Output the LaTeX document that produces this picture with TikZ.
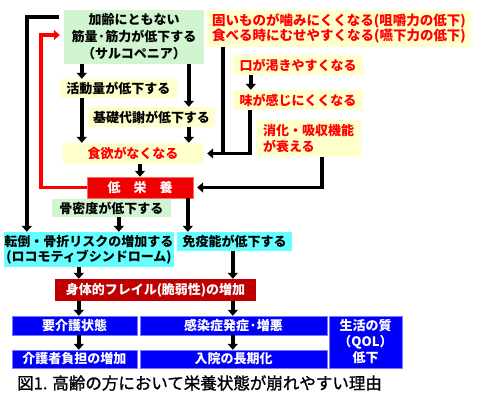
\documentclass[tikz,border=0pt]{standalone}
\usepackage{fontspec}
\setmainfont{Noto Sans CJK JP}
\newfontfamily\capfont{Noto Sans CJK JP}[FakeBold=1.2]
\usetikzlibrary{arrows.meta,calc}
\definecolor{gboxc}{RGB}{208,245,208}
\definecolor{yboxc}{RGB}{255,255,204}
\definecolor{rtext}{RGB}{255,0,0}
\definecolor{rboxc}{RGB}{240,0,0}
\definecolor{drboxc}{RGB}{192,0,0}
\definecolor{cboxc}{RGB}{102,255,255}
\definecolor{bboxc}{RGB}{0,0,250}
\definecolor{bbord}{RGB}{120,120,255}
\newcommand\mybox[7]{\node[#6, minimum width={#4-#2}, minimum height={#5-#3}] (#1) at ({(#2+#4)/2},{(#3+#5)/2}) {#7};}
\begin{document}
\begin{tikzpicture}[x=1pt,y=-1pt,
  font=\fontsize{13}{16}\selectfont\bfseries,
  base/.style={inner sep=0pt, align=center},
  gbox/.style={base, fill=gboxc, text=black},
  ybox/.style={base, fill=yboxc, text=black},
  yrbox/.style={base, fill=yboxc, text=rtext},
  rbox/.style={base, fill=rboxc, draw=red!60, text=white},
  drbox/.style={base, fill=drboxc, text=white},
  cbox/.style={base, fill=cboxc, text=black},
  bbox/.style={base, fill=bboxc, draw=bbord, text=white},
  blk/.style={line width=3.5pt, draw=black, -{Triangle[width=10pt,length=6pt]}},
  blkline/.style={line width=3.5pt, draw=black},
  redarr/.style={line width=3.5pt, draw=rtext, -{Triangle[width=10pt,length=6pt]}},
]
\useasboundingbox (0,0) rectangle (480,400);
\fill[white] (0,0) rectangle (480,400);

\mybox{green}{64}{10}{204}{64}{gbox, font=\fontsize{13}{17}\selectfont\bfseries}{加齢にともない\\筋量·筋力が低下する\\（サルコペニア）}
\mybox{tr}{207}{10}{471}{47}{yrbox, font=\fontsize{13.5}{15}\selectfont\bfseries}{固いものが噛みにくくなる(咀嚼力の低下)\\食べる時にむせやすくなる(嚥下力の低下)}
\mybox{act}{60}{79}{177}{98}{ybox}{活動量が低下する}
\mybox{basal}{88}{107}{215}{127}{ybox}{基礎代謝が低下する}
\mybox{appetite}{63}{143}{203}{164}{yrbox}{食欲がなくなる}
\mybox{mouth}{233}{55}{363}{75}{yrbox}{口が渇きやすくなる}
\mybox{taste}{233}{90}{363}{110}{yrbox}{味が感じにくくなる}
\mybox{digest}{256}{120}{361}{157}{yrbox, align=left}{消化・吸収機能\\が衰える}
\mybox{low}{87}{177}{193}{198}{rbox}{低　栄　養}
\mybox{bone}{52}{199}{171}{217}{gbox}{骨密度が低下する}
\mybox{fall}{4}{232}{174}{267}{cbox, font=\fontsize{13}{15}\selectfont\bfseries}{転倒・骨折リスクの増加する\\(ロコモティブシンドローム)}
\mybox{immune}{177}{232}{292}{251}{cbox}{免疫能が低下する}
\mybox{frail}{55}{279}{256}{301}{drbox}{身体的フレイル(脆弱性)の増加}
\mybox{care}{12}{316}{137}{335}{bbox}{要介護状態}
\mybox{infect}{140}{316}{327}{335}{bbox}{感染症発症·増悪}
\mybox{burden}{12}{350}{137}{368}{bbox}{介護者負担の増加}
\mybox{hosp}{140}{350}{327}{368}{bbox}{入院の長期化}
\mybox{qol}{329}{316}{402}{368}{bbox}{生活の質\\（QOL）\\低下}
\node[anchor=west, inner sep=0pt, font=\fontsize{16.5}{18}\capfont] (cap) at (17,383) {図1. 高齢の方において栄養状態が崩れやすい理由};

% connectors
\draw[blk] ([shift={(-5pt,-7pt)}]green.north west) -| ([xshift=23pt]fall.north west);
\coordinate (rb) at (41,35);
\draw[redarr] (low.west) -| (rb) -- ([xshift=-4pt]green.west |- rb);

\draw[blk] ([xshift=18pt]green.south west) -- ([xshift=22pt]act.north west);
\draw[blk] ([xshift=125pt]green.south west) -- ([xshift=101pt]basal.north west);
\draw[blk] ([xshift=22pt]act.south west) -- ([xshift=19pt]appetite.north west);
\draw[blk] ([xshift=101pt]basal.south west) -- ([xshift=126pt]appetite.north west);
\draw[blk] (appetite.south -| low.north) -- (low.north);

\draw[blk] ([xshift=18pt]mouth.south west) -- ([xshift=18pt]taste.north west);
\draw[blkline] ([xshift=17pt]taste.south west) |- ([xshift=16pt]tr.south west |- appetite.east);
\draw[blk] ([xshift=16pt]tr.south west) |- ([xshift=4pt]appetite.east);
\draw[blk] ([xshift=66pt]digest.south west) |- ([xshift=4pt]low.east);

\draw[blk] ([xshift=67pt]bone.south west) -- ([xshift=115pt]fall.north west);
\draw[blk] ([xshift=101pt]low.south west) -- ([xshift=11pt]immune.north west);
\draw[blk] ([xshift=75pt]fall.south west) -- ([xshift=24pt]frail.north west);
\draw[blk] ([xshift=56pt]immune.south west) -- ([xshift=178pt]frail.north west);
\draw[blk] ([xshift=24pt]frail.south west) -- ([xshift=67pt]care.north west);
\draw[blk] ([xshift=178pt]frail.south west) -- ([xshift=93pt]infect.north west);
\draw[blk] ([xshift=67pt]care.south west) -- ([xshift=67pt]burden.north west);
\draw[blk] ([xshift=93pt]infect.south west) -- ([xshift=93pt]hosp.north west);
\end{tikzpicture}
\end{document}
